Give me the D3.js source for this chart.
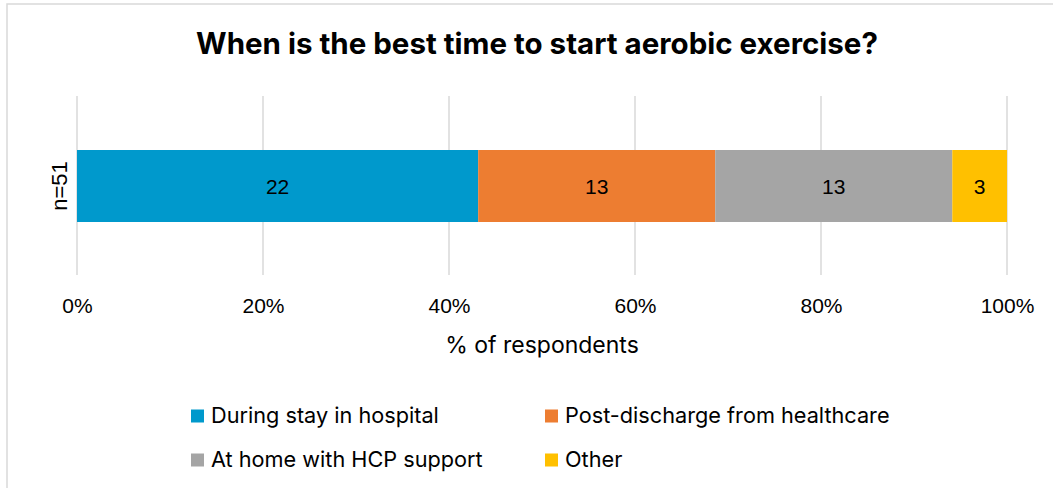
<!DOCTYPE html>
<html>
<head>
<meta charset="utf-8">
<script src="https://cdn.jsdelivr.net/npm/d3@7"></script>
<style>
  html, body { margin: 0; padding: 0; background: #fff; }
  svg { display: block; }
</style>
</head>
<body>
<svg id="chart" width="1053" height="488"></svg>
<script>
// Survey responses (n = 51), one stacked 100% bar
const categories = ["n=51"];
const seriesNames = ["During stay in hospital", "Post-discharge from healthcare", "At home with HCP support", "Other"];
const seriesValues = [22, 13, 13, 3];
const seriesColors = ["#0099CC", "#ED7D31", "#A5A5A5", "#FFC000"];
const tickValues = [0, 0.2, 0.4, 0.6, 0.8, 1.0];

const W = 1053, H = 488;
const svg = d3.select("#chart");
const bodyFont = "Inter, 'Open Sans', sans-serif";
const axisFont = "'Liberation Sans', Arial, sans-serif";

// chart frame
svg.append("rect")
  .attr("x", 7).attr("y", 4)
  .attr("width", W).attr("height", H)
  .attr("fill", "#fff").attr("stroke", "#d9d9d9").attr("stroke-width", 1.5);

// title
svg.append("text")
  .attr("x", 537).attr("y", 54)
  .attr("text-anchor", "middle")
  .style("font-family", bodyFont).style("font-weight", 700).style("font-size", "29.5px")
  .attr("fill", "#000")
  .text("When is the best time to start aerobic exercise?");

const plot = { left: 77, right: 1007, top: 96, bottom: 275 };
const x = d3.scaleLinear().domain([0, 1]).range([plot.left, plot.right]);

// gridlines
svg.append("g").selectAll("line").data(tickValues).join("line")
  .attr("x1", d => x(d)).attr("x2", d => x(d))
  .attr("y1", plot.top).attr("y2", plot.bottom)
  .attr("stroke", "#d9d9d9").attr("stroke-width", 1.5);

// stacked segments
const total = d3.sum(seriesValues);
const row = { cat: categories[0] };
seriesNames.forEach((s, i) => row[s] = seriesValues[i] / total);
const stacked = d3.stack().keys(seriesNames)([row]);

const barY = 150, barH = 72;
const seg = svg.append("g").selectAll("g").data(stacked).join("g");
seg.append("rect")
  .attr("x", d => x(d[0][0]))
  .attr("width", d => x(d[0][1]) - x(d[0][0]))
  .attr("y", barY).attr("height", barH)
  .attr("fill", (d, i) => seriesColors[i]);
seg.append("text")
  .attr("x", d => (x(d[0][0]) + x(d[0][1])) / 2)
  .attr("y", barY + barH / 2 + 1)
  .attr("dy", "0.35em")
  .attr("text-anchor", "middle")
  .style("font-family", axisFont).style("font-size", "21px")
  .attr("fill", "#000")
  .text((d, i) => seriesValues[i]);

// category label (rotated)
svg.append("text")
  .attr("transform", `translate(67,${barY + barH / 2}) rotate(-90)`)
  .attr("text-anchor", "middle")
  .style("font-family", axisFont).style("font-size", "22px")
  .attr("fill", "#000")
  .text(categories[0]);

// x axis tick labels
const xAxis = d3.axisBottom(x).tickValues(tickValues).tickFormat(d3.format(".0%")).tickSize(0).tickPadding(0);
const gx = svg.append("g").attr("transform", `translate(0,313)`).call(xAxis);
gx.select(".domain").remove();
gx.selectAll("text")
  .style("font-family", axisFont).style("font-size", "21px")
  .attr("fill", "#000").attr("dy", "0");

// axis title
svg.append("text")
  .attr("x", 542).attr("y", 353)
  .attr("text-anchor", "middle")
  .style("font-family", bodyFont).style("font-size", "23px")
  .attr("fill", "#000")
  .text("% of respondents");

// legend (2 x 2)
const legendPos = [[191, 423], [545, 423], [191, 467], [545, 467]];
const lg = svg.append("g").selectAll("g").data(seriesNames).join("g")
  .attr("transform", (d, i) => `translate(${legendPos[i][0]},${legendPos[i][1]})`);
lg.append("rect").attr("x", 0).attr("y", -13.5).attr("width", 13).attr("height", 13)
  .attr("fill", (d, i) => seriesColors[i]);
lg.append("text").attr("x", 20)
  .style("font-family", bodyFont).style("font-size", "21.7px")
  .attr("fill", "#000")
  .text(d => d);
</script>
</body>
</html>
